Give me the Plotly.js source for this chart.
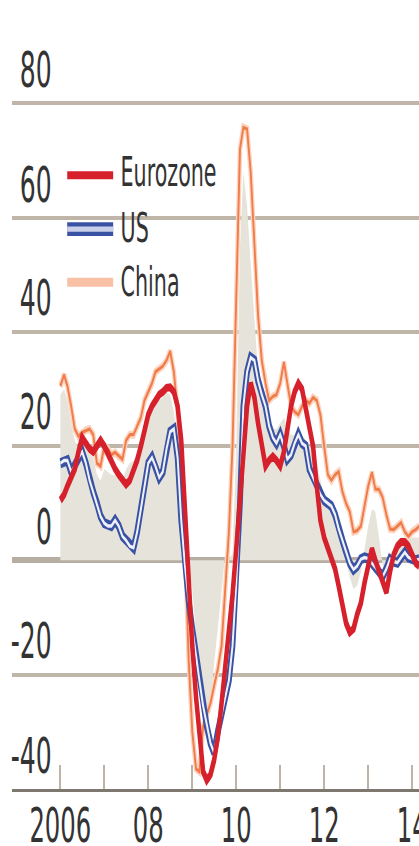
<!DOCTYPE html>
<html>
<head>
<meta charset="utf-8">
<script src="https://cdn.plot.ly/plotly-3.0.1.min.js"></script>
<style>
  html, body { margin:0; padding:0; background:#fff; overflow:hidden; width:419px; height:846px; }
  #chart { width:511px; height:583.4px; transform: scale(0.82, 1.45); transform-origin: 0 0; }
</style>
</head>
<body>
<div id="chart"></div>
<script>
// Monthly observations, Jan 2006 onwards (% change, year on year)
const startYear = 2006;
const nMonths = 99;
const months = [];
for (let i = 0; i < nMonths; i++) {
  const yy = startYear + Math.floor(i / 12), mm = (i % 12) + 1;
  months.push(yy + '-' + String(mm).padStart(2, '0') + '-01');
}

const eurozone = [
  10.5, 11.5, 13, 14.5, 16, 19, 21.5, 20.5, 19.5, 19, 20, 21,
  20, 18.5, 17.5, 16, 15, 14, 13.3, 14, 15.5, 17.5, 20, 23,
  25.5, 27, 28, 29, 29.5, 30.2, 30.3, 29.5, 27, 21, 9, -3,
  -15, -24, -31, -37, -38.5, -37.5, -35, -31, -25, -19, -12, -6,
  2, 10, 19, 27, 31, 28.5, 24, 20, 16.5, 17.5, 18.2, 17.5,
  16.5, 19, 23, 27, 29.5, 31, 30, 26.5, 23, 20, 13, 7,
  4, 2, 0.5, -1.5, -4.5, -8, -11, -12.6, -12, -9.5, -7.5, -4,
  -0.5, 2, 0, -2, -4, -5.6, -2, 1, 2.5, 3.2, 3.2, 2.5,
  1, -0.5, -1
];

const us = [
  17, 17.5, 17.5, 15.5, 16.5, 18, 19, 17, 14, 12, 10, 7.7,
  6.5, 6, 6, 7, 6, 4.2, 3.5, 2.5, 2.2, 5, 9, 13,
  17, 18, 16.5, 14.5, 15.5, 19.5, 22.5, 23, 18, 7, -1, -7,
  -12, -16.5, -21, -25.5, -29, -32, -33.7, -30, -27, -24, -21, -15,
  -4, 10, 27, 33, 35.5, 35, 31.5, 29, 27, 23.5, 21.5, 20.5,
  22, 20, 17.7, 18.5, 20.5, 22, 20.5, 20, 16, 14.5, 13, 11.5,
  10.5, 10, 9.5, 8, 5.5, 3.5, 1.5, -0.5, -1.6, -1, 0.2, 0.5,
  0.3, -0.5, -1, -2, -2.8, -1.5, 0.2, -0.2, -0.4, 0.5, 1.4, 0.5,
  0.2, 0, 0.2
];

const china = [
  30.5, 32.5, 30.5, 27, 23, 21.7, 22.4, 22.8, 23, 22, 17, 16.5,
  20, 19.5, 18.5, 18.9, 18.2, 17.7, 21, 22, 22, 23.5, 25, 28,
  29.5, 31, 33, 33.5, 34, 35, 36.6, 33, 26, 16, 3, -17,
  -30, -36.5, -37, -29, -27, -25, -22, -19, -15, -5, 5, 20,
  47, 72, 75.8, 75.5, 68, 55, 43, 35, 31, 28, 28.7, 29,
  31, 34.7, 31, 27, 26, 25.5, 27, 28, 27.5, 28.5, 28, 25.5,
  20, 15, 14, 15, 15.5, 12, 10, 8.5, 5, 5.2, 6, 9.5,
  13, 15.4, 12.5, 12.4, 11, 8, 5.5, 5.4, 6, 6.6, 5, 4.2,
  5, 5.4, 6
];

// shaded background series
const shaded = [
  29, 30, 28, 24, 21, 19.5, 20, 20, 19.5, 18, 15, 14,
  16, 15.5, 15, 15, 14.5, 14, 16, 17, 17.5, 19, 21, 23.5,
  25, 26.5, 27.5, 28, 28.5, 29.5, 29, 26, 20, 1, 0, -1,
  -5, -13, -21, -26, -27.5, -26.5, -18, -12, -5, 1, 0.5, 1,
  20, 55, 68, 62, 52, 42, 33, 28, 25, 24, 23, 23,
  24, 25, 23, 22, 22, 22, 22, 21, 20, 19, 17, 14,
  11, 9, 9, 8, 6, 3, 0, -3, -5, -4.5, -2, 2,
  6, 9, 8.5, 4, -1, -3, 0, 2.5, 3.5, 4, 4, 3.5,
  4, 4, 4
];

const seriesNames = ['Eurozone', 'US', 'China'];
const xTickVals = ['2006-01-01','2007-01-01','2008-01-01','2009-01-01','2010-01-01','2011-01-01','2012-01-01','2013-01-01','2014-01-01'];
const xTickText = ['2006', '', '08', '', '10', '', '12', '', '14'];
const yTickVals = [-40, -20, 0, 20, 40, 60, 80];
const yTickText = ['-40', '-20', '0', '20', '40', '60', '80'];

const FONT = "'Liberation Sans Narrow', 'DejaVu Sans Condensed', 'DejaVu Sans', sans-serif";
const RED = '#d6202b', BLUE = '#3a52a3', BLUE_IN = '#eef0fa', ORANGE = '#f07c4a', ORANGE_HALO = '#fcd3bf';

const traces = [
  { x: months, y: shaded, type: 'scatter', mode: 'lines', fill: 'tozeroy',
    fillcolor: '#e6e4da', line: { width: 0, color: '#e6e4da' }, hoverinfo: 'skip' },
  { x: months, y: china, type: 'scatter', mode: 'lines', line: { color: ORANGE_HALO, width: 5.5 } },
  { x: months, y: china, type: 'scatter', mode: 'lines', name: seriesNames[2], line: { color: ORANGE, width: 2.3 } },
  { x: months, y: us, type: 'scatter', mode: 'lines', name: seriesNames[1], line: { color: BLUE, width: 7 } },
  { x: months, y: us, type: 'scatter', mode: 'lines', line: { color: BLUE_IN, width: 2.4 } },
  { x: months, y: eurozone, type: 'scatter', mode: 'lines', name: seriesNames[0], line: { color: RED, width: 5.5 } }
];

const annotations = yTickVals.map((v, i) => ({
  xref: 'paper', yref: 'y', x: 0.1007, y: v, xanchor: 'right', yanchor: 'bottom',
  yshift: 1.5, showarrow: false, text: yTickText[i],
  font: { family: FONT, size: 34, color: '#333' }
}));

// legend (custom, drawn with shapes + annotations)
const legY = [0.8248, 0.750, 0.677];
const swY = [0.820, 0.748, 0.677];
seriesNames.forEach((n, i) => {
  annotations.push({ xref: 'paper', yref: 'paper', x: 0.262, y: legY[i], xanchor: 'left', yanchor: 'middle',
    showarrow: false, text: n, font: { family: FONT, size: 28, color: '#333' } });
});

const shapes = [
  { type: 'rect', xref: 'paper', yref: 'paper', x0: 0.113, x1: 0.462, y0: 0.6465, y1: 0.860,
    fillcolor: '#ffffff', line: { width: 0 }, layer: 'between' },
  { type: 'line', xref: 'paper', yref: 'paper', x0: 0.135, x1: 0.248, y0: swY[0], y1: swY[0], line: { color: RED, width: 5.5 } },
  { type: 'line', xref: 'paper', yref: 'paper', x0: 0.135, x1: 0.248, y0: swY[1], y1: swY[1], line: { color: BLUE, width: 9.5 } },
  { type: 'line', xref: 'paper', yref: 'paper', x0: 0.135, x1: 0.248, y0: swY[1], y1: swY[1], line: { color: '#c9cfe8', width: 3.5 } },
  { type: 'line', xref: 'paper', yref: 'paper', x0: 0.135, x1: 0.248, y0: swY[2], y1: swY[2], line: { color: '#f8c1a5', width: 6.2 } }
];

const layout = {
  width: 511, height: 583.4,
  margin: { l: 14.6, r: 0, t: 27.8, b: 39.2, pad: 0 },
  paper_bgcolor: '#ffffff', plot_bgcolor: '#ffffff',
  showlegend: false,
  xaxis: {
    type: 'date', range: ['2004-11-28', '2014-02-27'],
    tickmode: 'array', tickvals: xTickVals, ticktext: xTickText,
    ticks: 'inside', ticklen: 16.5, tickwidth: 2.6, tickcolor: '#bdb3a7',
    showgrid: false, zeroline: false,
    showline: true, linecolor: '#7d776f', linewidth: 2.3,
    tickfont: { family: FONT, size: 33, color: '#333' },
    ticklabelstandoff: -5,
    ticklabeloverflow: 'allow',
    layer: 'above traces'
  },
  yaxis: {
    range: [-40, 91], tickmode: 'array', tickvals: yTickVals,
    showticklabels: false, ticks: '',
    showgrid: true, gridcolor: '#bfb5a9', gridwidth: 2.75,
    zeroline: true, zerolinecolor: '#b7aea3', zerolinewidth: 4,
    showline: false
  },
  annotations: annotations,
  shapes: shapes
};

Plotly.newPlot('chart', traces, layout, { staticPlot: true, displayModeBar: false });
</script>
</body>
</html>
